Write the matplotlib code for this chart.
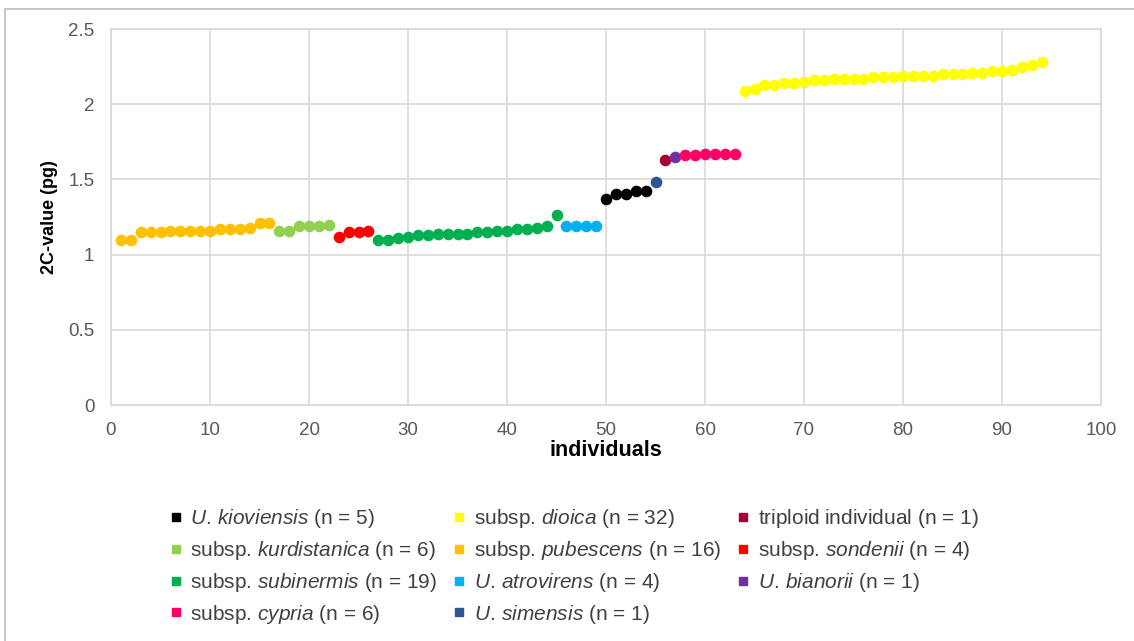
import matplotlib.pyplot as plt
from matplotlib.lines import Line2D
from matplotlib.patches import Rectangle

plt.rcParams['font.family'] = ['Liberation Sans', 'DejaVu Sans']
plt.rcParams['mathtext.fontset'] = 'custom'
plt.rcParams['mathtext.rm'] = 'Liberation Sans'
plt.rcParams['mathtext.it'] = 'Liberation Sans:italic'

# 2C-values per group, in plotting order along the x axis
pubescens = [1.10, 1.10, 1.15, 1.15, 1.15, 1.16, 1.16, 1.16, 1.16, 1.16,
             1.17, 1.17, 1.17, 1.18, 1.21, 1.21]
kurdistanica = [1.16, 1.16, 1.19, 1.19, 1.19, 1.20]
sondenii = [1.12, 1.15, 1.15, 1.16]
subinermis = [1.10, 1.10, 1.11, 1.12, 1.13, 1.13, 1.14, 1.14, 1.14, 1.14,
              1.15, 1.15, 1.16, 1.16, 1.17, 1.17, 1.18, 1.19, 1.26]
atrovirens = [1.19, 1.19, 1.19, 1.19]
kioviensis = [1.37, 1.40, 1.40, 1.42, 1.42]
simensis = [1.48]
triploid = [1.63]
bianorii = [1.65]
cypria = [1.66, 1.66, 1.67, 1.67, 1.67, 1.67]
dioica = [2.09, 2.10, 2.13, 2.13, 2.14, 2.14, 2.15, 2.16, 2.16, 2.17,
          2.17, 2.17, 2.17, 2.18, 2.18, 2.18, 2.19, 2.19, 2.19, 2.19,
          2.20, 2.20, 2.20, 2.21, 2.21, 2.22, 2.22, 2.23, 2.25, 2.26, 2.28]

groups = [
    ('pubescens', pubescens, '#FFC000', r'subsp. $\it{pubescens}$ (n = 16)'),
    ('kurdistanica', kurdistanica, '#92D050', r'subsp. $\it{kurdistanica}$ (n = 6)'),
    ('sondenii', sondenii, '#FF0000', r'subsp. $\it{sondenii}$ (n = 4)'),
    ('subinermis', subinermis, '#00B050', r'subsp. $\it{subinermis}$ (n = 19)'),
    ('atrovirens', atrovirens, '#00B0F0', r'$\it{U.}\,\it{atrovirens}$ (n = 4)'),
    ('kioviensis', kioviensis, '#000000', r'$\it{U.}\,\it{kioviensis}$ (n = 5)'),
    ('simensis', simensis, '#2F5597', r'$\it{U.}\,\it{simensis}$ (n = 1)'),
    ('triploid', triploid, '#A50034', r'$\mathrm{triploid}\;\mathrm{individual}$ (n = 1)'),
    ('bianorii', bianorii, '#7030A0', r'$\it{U.}\,\it{bianorii}$ (n = 1)'),
    ('cypria', cypria, '#FF0066', r'subsp. $\it{cypria}$ (n = 6)'),
    ('dioica', dioica, '#FFFF00', r'subsp. $\it{dioica}$ (n = 32)'),
]

# legend order (column by column)
legend_order = ['kioviensis', 'kurdistanica', 'subinermis', 'cypria',
                'dioica', 'pubescens', 'atrovirens', 'simensis',
                'triploid', 'sondenii', 'bianorii']

fig = plt.figure(figsize=(11.34, 6.41), dpi=100)
ax = fig.add_axes([111 / 1134, 1 - 405 / 641, 990 / 1134, 376 / 641])

handles = {}
x0 = 1
for name, vals, color, label in groups:
    xs = list(range(x0, x0 + len(vals)))
    ax.scatter(xs, vals, s=70, color=color, zorder=3, linewidths=0)
    handles[name] = Line2D([], [], marker='s', linestyle='none', color=color,
                           markersize=6, label=label)
    x0 += len(vals)

ax.set_xlim(0, 100)
ax.set_ylim(0, 2.5)
ax.set_xticks(range(0, 101, 10))
ax.set_yticks([0, 0.5, 1, 1.5, 2, 2.5])
ax.set_yticklabels(['0', '0.5', '1', '1.5', '2', '2.5'])
ax.grid(True, color='#D9D9D9', linewidth=1.2)
ax.set_axisbelow(True)
for sp in ax.spines.values():
    sp.set_color('#D9D9D9')
    sp.set_linewidth(1.2)
ax.tick_params(length=0, labelsize=13.5, colors='#595959', pad=12)
ax.set_xlabel('individuals', fontsize=15.5, fontweight='bold', labelpad=1)
ax.set_ylabel('2C-value (pg)', fontsize=13, fontweight='bold', labelpad=7)

hs = [handles[n] for n in legend_order]
fig.legend(handles=hs, ncol=3, loc='upper left', bbox_to_anchor=(162 / 1134, 1 - 499 / 641),
           frameon=False, fontsize=15, handlelength=0.5, handletextpad=0.45,
           columnspacing=0.8, labelspacing=0.42, borderaxespad=0, labelcolor='#404040')

fig.patches.append(Rectangle((5 / 1134, -0.01), 1.2, 1 - 9 / 641 + 0.01,
                             transform=fig.transFigure, fill=False,
                             edgecolor='#C8C8C8', linewidth=1.5))

fig.savefig('out.png', dpi=100)
